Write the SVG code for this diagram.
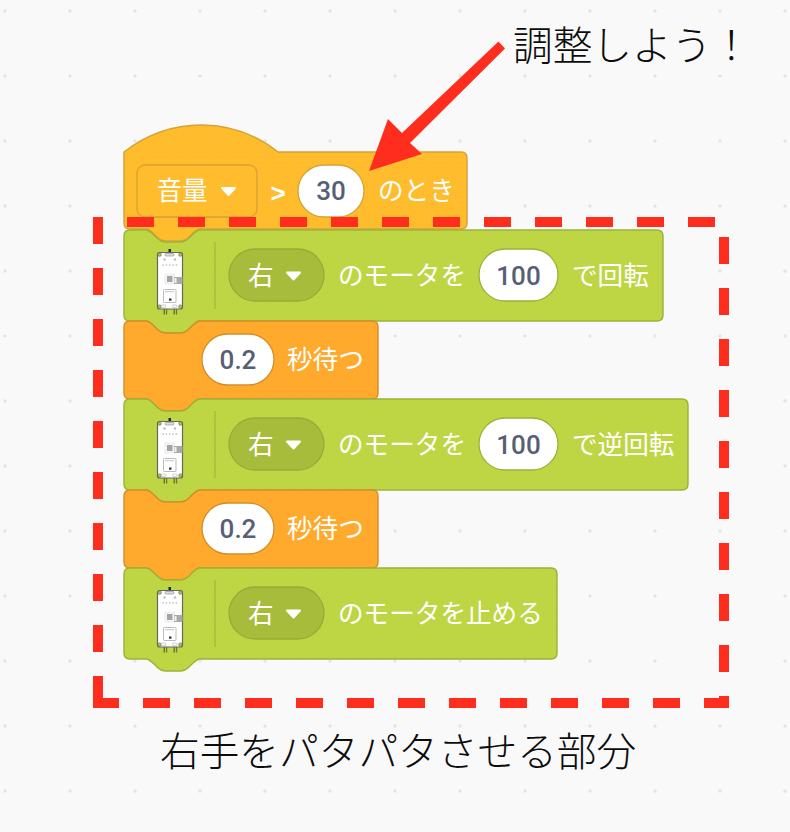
<svg xmlns="http://www.w3.org/2000/svg" xmlns:xlink="http://www.w3.org/1999/xlink" width="790" height="832" viewBox="0 0 790 832">
<style>
text{font-family:"Noto Sans CJK JP","Noto Sans",sans-serif}
.lbl{font-size:25.6px;fill:#fff}
.num{font-family:Roboto,"Liberation Sans",sans-serif;font-size:26px;font-weight:500;fill:#575e75;text-anchor:middle}
.note{font-size:39.7px;fill:#0c0c0c;font-weight:300}
.hat{fill:url(#fh);stroke:#d6a136;stroke-width:1.4}
.or{fill:url(#fo);stroke:#d38e2a;stroke-width:1.4}
.gr{fill:url(#fg);stroke:#9db038;stroke-width:1.4}
.pill{fill:#fff;stroke-width:1.3}
.dd{fill:#a8bc3b;stroke:#98ab36;stroke-width:1.3}
.tri{fill:#fff;stroke:#fff;stroke-width:2;stroke-linejoin:round}
.dash{fill:none;stroke:#ff2d1d;stroke-width:10;stroke-dasharray:27 24}
.sep{stroke:#a9bd3b;stroke-width:1.5}
</style>
<defs>
<pattern id="bg" width="65" height="65" patternUnits="userSpaceOnUse" x="5" y="11"><circle cx="0" cy="0" r="1.7" fill="#e4e4e4"/><circle cx="65" cy="0" r="1.7" fill="#e4e4e4"/><circle cx="0" cy="65" r="1.7" fill="#e4e4e4"/><circle cx="65" cy="65" r="1.7" fill="#e4e4e4"/></pattern>
<pattern id="fh" width="5" height="5" patternUnits="userSpaceOnUse"><rect width="5" height="5" fill="#ffbc2c"/><circle cx="2.5" cy="2.5" r=".5" fill="#f6b42a"/></pattern>
<pattern id="fo" width="5" height="5" patternUnits="userSpaceOnUse"><rect width="5" height="5" fill="#ffaa2d"/><circle cx="2.5" cy="2.5" r=".5" fill="#f8a42b"/></pattern>
<pattern id="fg" width="5" height="5" patternUnits="userSpaceOnUse"><rect width="5" height="5" fill="#bed644"/><circle cx="2.5" cy="2.5" r=".5" fill="#b9d042"/></pattern>
<g id="board">
<rect x="163.5" y="309" width="1.6" height="5.5" fill="#6d7a2c"/><rect x="166" y="309" width="1.2" height="5.5" fill="#6d7a2c"/>
<rect x="173.5" y="309" width="1.6" height="5.5" fill="#6d7a2c"/><rect x="176" y="309" width="1.2" height="5.5" fill="#6d7a2c"/>
<rect x="168.5" y="249" width="2.5" height="3.5" fill="#222"/>
<rect x="157.5" y="252.5" width="25" height="56.5" rx="2" fill="#fff" stroke="#666" stroke-width="1.2"/>
<rect x="165" y="253.5" width="9" height="2.5" rx="1" fill="#ddd" stroke="#888" stroke-width=".6"/>
<circle cx="159.6" cy="254.6" r="1.7" fill="#b9c93f" stroke="#666" stroke-width=".7"/><circle cx="180.4" cy="254.6" r="1.7" fill="#b9c93f" stroke="#666" stroke-width=".7"/>
<circle cx="159.6" cy="306.6" r="1.7" fill="#b9c93f" stroke="#666" stroke-width=".7"/><circle cx="180.4" cy="306.6" r="1.7" fill="#b9c93f" stroke="#666" stroke-width=".7"/>
<circle cx="164.5" cy="259.5" r="1.2" fill="#bbb"/><circle cx="175" cy="259.5" r="1.2" fill="#bbb"/>
<line x1="162.5" y1="265" x2="177" y2="265" stroke="#999" stroke-width="1.2" stroke-dasharray="1.3 2"/>
<rect x="165" y="274" width="9.5" height="10" fill="#f4f4f4" stroke="#e4e4e4" stroke-width=".6"/>
<rect x="167" y="276" width="5.5" height="6" fill="#a5a5a5"/>
<rect x="174" y="277" width="8.5" height="7" fill="#aaa"/><rect x="174.5" y="278" width="2" height="5" fill="#f2f2f2"/>
<rect x="163.5" y="289.5" width="12.5" height="13" rx="1" fill="#fff" stroke="#aaa" stroke-width=".8"/>
<line x1="165.5" y1="291.7" x2="174" y2="291.7" stroke="#888" stroke-width="1" stroke-dasharray="1 1"/>
<rect x="169" y="298.5" width="2.5" height="2.2" fill="#333"/>
<rect x="161.5" y="305" width="4.5" height="2.6" rx="1.2" fill="#fff" stroke="#aaa" stroke-width=".6"/><rect x="172.5" y="305" width="4.5" height="2.6" rx="1.2" fill="#fff" stroke="#aaa" stroke-width=".6"/>
</g>
<polygon id="ar" class="tri" points="-6.5,-3.5 6.5,-3.5 0,3.5"/>
</defs>
<rect width="790" height="832" fill="#f9f9f9"/>
<rect width="790" height="832" fill="url(#bg)"/>

<g id="hat-block">
<path class="hat" d="M124 152 C146 135 172 125 201 125 C232 125 258 136 278 152 H461 Q467 152 467 158 V223 Q467 229 461 229 H200 C197 229 195 231 192 234 L189 237 C186 240 184 241 180 241 H166 C162 241 160 240 157 237 L154 234 C151 231 149 229 146 229 H130 Q124 229 124 223 Z"/>
<rect x="137" y="165" width="120" height="52" rx="8" fill="#ffbc2c" stroke="#d6a136" stroke-width="1.3"/>
<text class="lbl" x="156.5" y="200">音量</text>
<use xlink:href="#ar" href="#ar" x="228.5" y="191.5"/>
<text x="278" y="202" fill="#fff" font-size="26" font-weight="700" text-anchor="middle" style="font-family:'Liberation Sans',sans-serif">&gt;</text>
<rect class="pill" x="298" y="165" width="66" height="52" rx="26" stroke="#d6a136"/>
<text class="num" x="331" y="200">30</text>
<text class="lbl" x="378" y="200">のとき</text>
</g>

<g id="motor-block-1">
<path class="gr" d="M124 236 Q124 230 130 230 H146 C149 230 151 232 154 235 L157 238 C160 241 162 242 166 242 H180 C184 242 186 241 189 238 L192 235 C195 232 197 230 200 230 H657 Q663 230 663 236 V315 Q663 321 657 321 H200 C197 321 195 323 192 326 L189 329 C186 332 184 333 180 333 H166 C162 333 160 332 157 329 L154 326 C151 323 149 321 146 321 H130 Q124 321 124 315 Z"/>
<use xlink:href="#board" href="#board"/>
<line class="sep" x1="215" y1="242" x2="215" y2="309"/>
<rect class="dd" x="229" y="249" width="95" height="52" rx="26"/>
<text class="lbl" x="248" y="285">右</text>
<use xlink:href="#ar" href="#ar" x="293.5" y="276"/>
<text class="lbl" x="338" y="285">のモータを</text>
<rect class="pill" x="479" y="249" width="79" height="52" rx="26" stroke="#9db038"/>
<text class="num" x="518.5" y="285">100</text>
<text class="lbl" x="572" y="285">で回転</text>
</g>

<g id="wait-block-1">
<path class="or" d="M124 327 Q124 321 130 321 H146 C149 321 151 323 154 326 L157 329 C160 332 162 333 166 333 H180 C184 333 186 332 189 329 L192 326 C195 323 197 321 200 321 H372 Q378 321 378 327 V393 Q378 399 372 399 H200 C197 399 195 401 192 404 L189 407 C186 410 184 411 180 411 H166 C162 411 160 410 157 407 L154 404 C151 401 149 399 146 399 H130 Q124 399 124 393 Z"/>
<rect class="pill" x="202" y="334" width="72" height="51" rx="25.5" stroke="#d38e2a"/>
<text class="num" x="238" y="369">0.2</text>
<text class="lbl" x="287" y="369">秒待つ</text>
</g>

<g id="motor-block-2">
<path class="gr" d="M124 405 Q124 399 130 399 H146 C149 399 151 401 154 404 L157 407 C160 410 162 411 166 411 H180 C184 411 186 410 189 407 L192 404 C195 401 197 399 200 399 H682 Q688 399 688 405 V484 Q688 490 682 490 H200 C197 490 195 492 192 495 L189 498 C186 501 184 502 180 502 H166 C162 502 160 501 157 498 L154 495 C151 492 149 490 146 490 H130 Q124 490 124 484 Z"/>
<use xlink:href="#board" href="#board" y="169"/>
<line class="sep" x1="215" y1="411" x2="215" y2="478"/>
<rect class="dd" x="229" y="418" width="95" height="52" rx="26"/>
<text class="lbl" x="248" y="454">右</text>
<use xlink:href="#ar" href="#ar" x="293.5" y="445"/>
<text class="lbl" x="338" y="454">のモータを</text>
<rect class="pill" x="479" y="418" width="79" height="52" rx="26" stroke="#9db038"/>
<text class="num" x="518.5" y="454">100</text>
<text class="lbl" x="572" y="454">で逆回転</text>
</g>

<g id="wait-block-2">
<path class="or" d="M124 496 Q124 490 130 490 H146 C149 490 151 492 154 495 L157 498 C160 501 162 502 166 502 H180 C184 502 186 501 189 498 L192 495 C195 492 197 490 200 490 H372 Q378 490 378 496 V562 Q378 568 372 568 H200 C197 568 195 570 192 573 L189 576 C186 579 184 580 180 580 H166 C162 580 160 579 157 576 L154 573 C151 570 149 568 146 568 H130 Q124 568 124 562 Z"/>
<rect class="pill" x="202" y="503" width="72" height="51" rx="25.5" stroke="#d38e2a"/>
<text class="num" x="238" y="538">0.2</text>
<text class="lbl" x="287" y="538">秒待つ</text>
</g>

<g id="motor-block-3">
<path class="gr" d="M124 574 Q124 568 130 568 H146 C149 568 151 570 154 573 L157 576 C160 579 162 580 166 580 H180 C184 580 186 579 189 576 L192 573 C195 570 197 568 200 568 H551 Q557 568 557 574 V653 Q557 659 551 659 H200 C197 659 195 661 192 664 L189 667 C186 670 184 671 180 671 H166 C162 671 160 670 157 667 L154 664 C151 661 149 659 146 659 H130 Q124 659 124 653 Z"/>
<use xlink:href="#board" href="#board" y="338"/>
<line class="sep" x1="215" y1="580" x2="215" y2="647"/>
<rect class="dd" x="229" y="587" width="95" height="52" rx="26"/>
<text class="lbl" x="248" y="623">右</text>
<use xlink:href="#ar" href="#ar" x="293.5" y="614"/>
<text class="lbl" x="338" y="623">のモータを止める</text>
</g>

<g id="connectors">
<path class="dash" d="M127 222 H724"/>
<path class="dash" d="M98 217 V703"/>
<path class="dash" d="M724 237 V708"/>
<path class="dash" d="M93 703 H729" stroke-dashoffset="1"/>
<polygon fill="#ff2d1d" points="498.5,41.5 505,48.5 410,143 422,154 369,171 388,119 402,133"/>
</g>

<text class="note" x="513" y="60">調整しよう！</text>
<text class="note" x="160" y="766">右手をパタパタさせる部分</text>
</svg>
